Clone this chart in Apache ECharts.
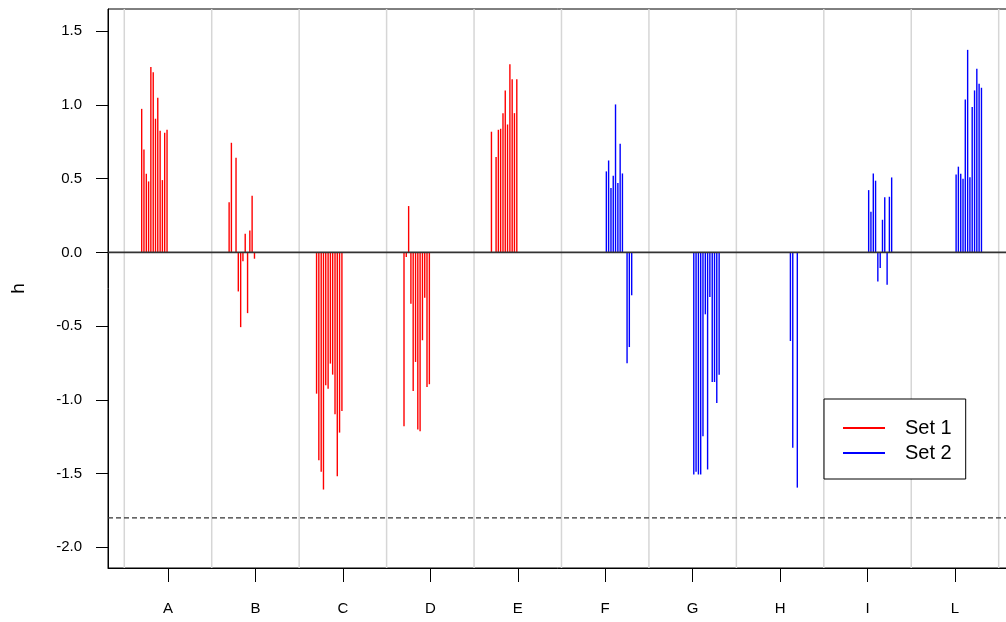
<!DOCTYPE html>
<html>
<head>
<meta charset="utf-8">
<script src="https://cdn.jsdelivr.net/npm/echarts@6/dist/echarts.min.js"></script>
<style>
  html, body { margin: 0; padding: 0; background: #fff; }
  #chart { width: 1006px; height: 622px; }
</style>
</head>
<body>
<div id="chart"></div>
<script>
var groups = ['A', 'B', 'C', 'D', 'E', 'F', 'G', 'H', 'I', 'L'];
var set1Groups = ['A', 'B', 'C', 'D', 'E'];
var set2Groups = ['F', 'G', 'H', 'I', 'L'];

// position of the 12 observations inside a group (category units, relative to the tick)
var set1Offsets = [-0.301, -0.275, -0.248, -0.222, -0.196, -0.169, -0.143, -0.117, -0.090, -0.064, -0.038, -0.011];
var set2Offsets = [0.013, 0.039, 0.066, 0.092, 0.118, 0.145, 0.171, 0.197, 0.224, 0.250, 0.276, 0.303];

// null = no line at that slot
var valuesA = [0.973, 0.698, 0.533, 0.481, 1.256, 1.222, 0.906, 1.048, 0.824, 0.490, 0.811, 0.831];
var valuesB = [0.339, 0.743, null, 0.642, -0.265, -0.507, -0.061, 0.127, -0.412, 0.149, 0.383, -0.043];
var valuesC = [-0.958, -1.409, -1.488, -1.608, -0.901, -0.924, -0.754, -0.829, -1.098, -1.518, -1.222, -1.075];
var valuesD = [-1.179, -0.032, 0.314, -0.348, -0.940, -0.743, -1.201, -1.213, -0.596, -0.307, -0.912, -0.894];
var valuesE = [0.818, null, 0.646, 0.831, 0.838, 0.944, 1.098, 0.867, 1.276, 1.174, 0.944, 1.174];
var valuesF = [0.549, 0.623, 0.436, 0.520, 1.003, 0.470, 0.736, 0.535, null, -0.751, -0.642, -0.291];
var valuesG = [-1.506, -1.488, -1.506, -1.506, -1.247, -0.420, -1.472, -0.303, -0.879, -0.879, -1.021, -0.829];
var valuesH = [null, null, null, null, -0.601, -1.324, null, -1.595, null, null, null, null];
var valuesI = [0.422, 0.275, 0.535, 0.486, -0.197, -0.106, 0.221, 0.373, -0.219, 0.377, 0.508, null];
var valuesL = [0.528, 0.581, 0.533, 0.499, 1.037, 1.373, 0.510, 0.985, 1.098, 1.245, 1.143, 1.116];

var set1Values = [valuesA, valuesB, valuesC, valuesD, valuesE];
var set2Values = [valuesF, valuesG, valuesH, valuesI, valuesL];

var yTicks = [-2.0, -1.5, -1.0, -0.5, 0.0, 0.5, 1.0, 1.5];
var xTicks = [1, 2, 3, 4, 5, 6, 7, 8, 9, 10];
var groupBorders = [0.5, 1.5, 2.5, 3.5, 4.5, 5.5, 6.5, 7.5, 8.5, 9.5, 10.5];
var refLines = [0, -1.8];

function buildData(names, offsets, values) {
  var out = [];
  names.forEach(function (g, gi) {
    var pos = groups.indexOf(g) + 1;
    values[gi].forEach(function (v, k) {
      if (v !== null) out.push([pos + offsets[k], v]);
    });
  });
  return out;
}

function spike(params, api) {
  var x = api.value(0), y = api.value(1);
  var p0 = api.coord([x, 0]);
  var p1 = api.coord([x, y]);
  return {
    type: 'line',
    shape: { x1: p0[0], y1: p0[1], x2: p1[0], y2: p1[1] },
    style: { stroke: api.visual('color'), lineWidth: 1.4 }
  };
}

var chart = echarts.init(document.getElementById('chart'));
var font = 'Liberation Sans, Arial, sans-serif';

chart.setOption({
  animation: false,
  backgroundColor: '#fff',
  grid: {
    left: 108, top: 9, bottom: 54, right: -10,
    show: true, borderColor: '#000', borderWidth: 1,
    outerBoundsMode: 'none'
  },
  legend: {
    data: ['Set 1', 'Set 2'],
    orient: 'vertical',
    left: 824, top: 399,
    backgroundColor: '#fff',
    borderColor: '#000',
    borderWidth: 1,
    borderRadius: 0,
    padding: [19, 14, 16, 19],
    itemGap: 5,
    itemWidth: 42,
    itemHeight: 2,
    icon: 'rect',
    textStyle: { fontFamily: font, fontSize: 20, color: '#000', lineHeight: 20, padding: [0, 0, 0, 15] }
  },
  xAxis: {
    type: 'value',
    min: 0.3138,
    max: 10.698,
    axisLine: { show: true, onZero: false, lineStyle: { color: '#000', width: 1 } },
    axisTick: { show: true, length: 14, customValues: xTicks, lineStyle: { color: '#000' } },
    axisLabel: {
      customValues: xTicks, margin: 33,
      fontFamily: font, fontSize: 15, color: '#000',
      formatter: function (v) { return groups[Math.round(v) - 1] || ''; }
    },
    splitLine: { show: false }
  },
  yAxis: {
    type: 'value',
    min: -2.14,
    max: 1.65,
    name: 'h',
    nameLocation: 'middle',
    nameGap: 80,
    nameRotate: 90,
    nameTextStyle: { fontFamily: font, fontSize: 19, color: '#000' },
    axisLine: { show: true, onZero: false, lineStyle: { color: '#000', width: 1 } },
    axisTick: { show: true, length: 12, customValues: yTicks, lineStyle: { color: '#000' } },
    axisLabel: {
      customValues: yTicks, margin: 26,
      fontFamily: font, fontSize: 15, color: '#000',
      formatter: function (v) { return v.toFixed(1); }
    },
    splitLine: { show: false }
  },
  series: [
    {
      name: 'borders',
      type: 'custom',
      silent: true,
      z: 1,
      data: groupBorders.map(function (x) { return [x]; }),
      encode: { x: 0 },
      renderItem: function (params, api) {
        var cs = params.coordSys;
        var px = api.coord([api.value(0), 0])[0];
        return {
          type: 'line',
          shape: { x1: px, y1: cs.y, x2: px, y2: cs.y + cs.height },
          style: { stroke: '#d6d6d6', lineWidth: 1.5 }
        };
      }
    },
    {
      name: 'Set 1',
      type: 'custom',
      z: 2,
      itemStyle: { color: '#ff0000' },
      data: buildData(set1Groups, set1Offsets, set1Values),
      encode: { x: 0, y: 1 },
      renderItem: spike
    },
    {
      name: 'Set 2',
      type: 'custom',
      z: 2,
      itemStyle: { color: '#0000ff' },
      data: buildData(set2Groups, set2Offsets, set2Values),
      encode: { x: 0, y: 1 },
      renderItem: spike
    },
    {
      name: 'refs',
      type: 'custom',
      silent: true,
      z: 3,
      data: refLines.map(function (y) { return [y]; }),
      encode: { y: 0 },
      renderItem: function (params, api) {
        var cs = params.coordSys;
        var y = api.value(0);
        var py = api.coord([1, y])[1];
        return {
          type: 'line',
          shape: { x1: cs.x, y1: py, x2: cs.x + cs.width, y2: py },
          style: y === 0
            ? { stroke: '#333', lineWidth: 1.6 }
            : { stroke: '#333', lineWidth: 1.4, lineDash: [5, 3] }
        };
      }
    }
  ]
});
</script>
</body>
</html>
